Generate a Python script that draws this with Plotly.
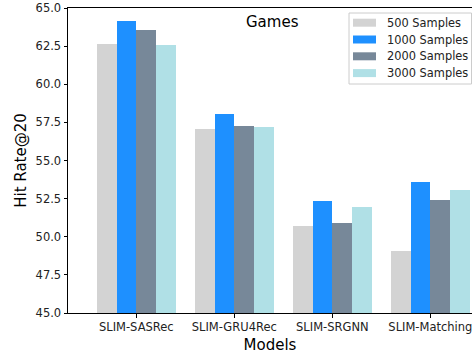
import plotly.graph_objects as go

models = ["SLIM-SASRec", "SLIM-GRU4Rec", "SLIM-SRGNN", "SLIM-Matching"]
series_names = ["500 Samples", "1000 Samples", "2000 Samples", "3000 Samples"]
hit_500 = [62.62, 57.05, 50.71, 49.07]
hit_1000 = [64.12, 58.08, 52.34, 53.59]
hit_2000 = [63.53, 57.25, 50.90, 52.41]
hit_3000 = [62.55, 57.18, 51.95, 53.06]
colors = ["#D3D3D3", "#1E90FF", "#778899", "#B0E0E6"]

values = [hit_500, hit_1000, hit_2000, hit_3000]
bar_w = 0.2
offsets = [-0.3, -0.1, 0.1, 0.3]
base = 45.0

W, H = 472, 354
ML, MR, MT, MB = 68, 0, 8, 41
plot_w = W - ML - MR
plot_h = H - MT - MB


def px_x(px):
    return (px - ML) / plot_w


def px_y(py):
    return (H - MB - py) / plot_h


fig = go.Figure()
for name, vals, col, off in zip(series_names, values, colors, offsets):
    fig.add_trace(go.Bar(
        x=[i + off for i in range(len(models))],
        y=[v - base for v in vals],
        base=base,
        width=bar_w,
        name=name,
        marker=dict(color=col, line=dict(width=0)),
        showlegend=False,
    ))

# legend box drawn in the upper right corner of the axes
shapes = [dict(
    type="rect", xref="paper", yref="paper",
    x0=px_x(349), x1=px_x(471.5), y0=px_y(84), y1=px_y(13),
    line=dict(color="#CCCCCC", width=1), fillcolor="white", layer="above",
)]
annotations = []
row_h = 16.8
for k, (name, col) in enumerate(zip(series_names, colors)):
    cy = 22.7 + k * row_h
    shapes.append(dict(
        type="rect", xref="paper", yref="paper",
        x0=px_x(353), x1=px_x(376), y0=px_y(cy + 4), y1=px_y(cy - 4),
        line=dict(width=0), fillcolor=col, layer="above",
    ))
    annotations.append(dict(
        text=name, xref="paper", yref="paper", x=px_x(385), y=px_y(cy),
        xanchor="left", yanchor="middle", showarrow=False,
        font=dict(size=11.4, color="#222222"),
    ))

annotations.append(dict(
    text="Games", xref="paper", yref="paper", x=px_x(272.5), y=px_y(22),
    xanchor="center", yanchor="middle", showarrow=False,
    font=dict(size=15, color="#000000"),
))

fig.update_layout(
    width=W, height=H,
    margin=dict(l=ML, r=MR, t=MT, b=MB),
    paper_bgcolor="white", plot_bgcolor="white",
    font=dict(family="DejaVu Sans", size=11, color="#000000"),
    bargap=0,
    xaxis=dict(
        range=[-0.697, 3.425],
        tickmode="array", tickvals=list(range(len(models))), ticktext=models,
        showline=True, linecolor="#000000", linewidth=1, mirror=True,
        ticks="outside", ticklen=3.5, tickcolor="#000000",
        showgrid=False, zeroline=False,
        ticklabeloverflow="allow",
        title=dict(text="Models", font=dict(size=15), standoff=6),
        tickfont=dict(size=11.5, color="#222222"),
    ),
    yaxis=dict(
        range=[45, 65],
        tickmode="array", tickvals=[45, 47.5, 50, 52.5, 55, 57.5, 60, 62.5, 65],
        ticktext=["45.0", "47.5", "50.0", "52.5", "55.0", "57.5", "60.0", "62.5", "65.0"],
        showline=True, linecolor="#000000", linewidth=1, mirror=False,
        ticks="outside", ticklen=3.5, tickcolor="#000000",
        showgrid=False, zeroline=False,
        title=dict(text="Hit Rate@20", font=dict(size=15), standoff=5),
        tickfont=dict(size=11.5, color="#222222"),
    ),
    shapes=shapes,
    annotations=annotations,
)

fig.write_html("out.html")
